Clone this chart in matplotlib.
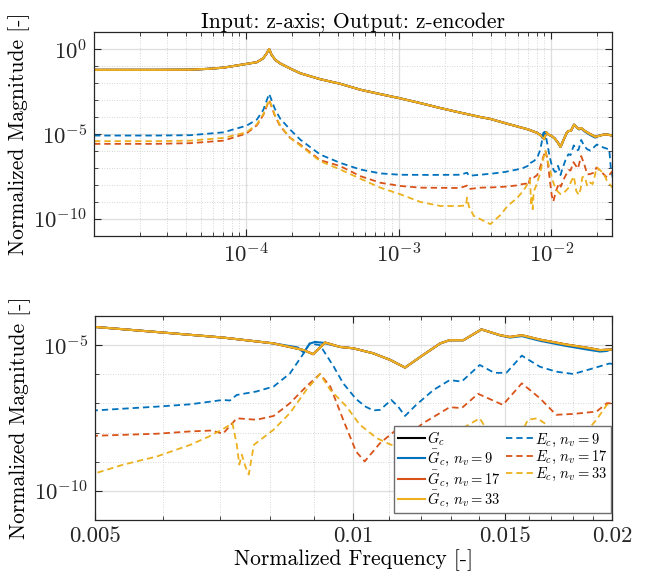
import numpy as np
import matplotlib
matplotlib.use("Agg")
import matplotlib.pyplot as plt
from matplotlib.ticker import FixedLocator, FixedFormatter, NullFormatter

plt.rcParams['font.family'] = 'serif'
plt.rcParams['font.serif'] = ['cmr10']
plt.rcParams['mathtext.fontset'] = 'cm'
plt.rcParams['axes.unicode_minus'] = False

# values, as log10(frequency) / log10(magnitude)
gc_logf = [-5.0, -4.6, -4.37, -4.25, -4.151, -4.041, -3.932, -3.89, -3.87, -3.851,
           -3.835, -3.81, -3.779, -3.713, -3.647, -3.516, -3.385, -3.253, -3.122, -3.0,
           -2.859, -2.728, -2.597, -2.466, -2.40, -2.301, -2.229, -2.152, -2.093, -2.058,
           -2.047, -2.033, -2.016, -2.000, -1.977, -1.957, -1.940, -1.919, -1.899, -1.888,
           -1.872, -1.851, -1.829, -1.818, -1.804, -1.783, -1.752, -1.728, -1.713, -1.699,
           -1.66, -1.634, -1.60]
gc_logm = [-1.23, -1.23, -1.22, -1.17, -1.10, -0.94, -0.78, -0.55, -0.30, 0.0,
           -0.35, -0.65, -0.85, -1.15, -1.43, -1.78, -2.05, -2.40, -2.66, -2.89,
           -3.19, -3.48, -3.75, -4.01, -4.12, -4.375, -4.55, -4.74, -4.94, -5.17,
           -5.31, -4.91, -5.06, -5.11, -5.28, -5.51, -5.77, -5.34, -4.94, -4.83,
           -4.83, -4.46, -4.66, -4.72, -4.66, -4.81, -4.98, -5.09, -5.17, -5.15,
           -5.05, -5.04, -5.10]

g9_logf = [-5.0, -4.6, -4.37, -4.25, -4.151, -4.041, -3.932, -3.89, -3.87, -3.851,
           -3.835, -3.81, -3.779, -3.713, -3.647, -3.516, -3.385, -3.253, -3.122, -3.0,
           -2.859, -2.728, -2.597, -2.466, -2.40, -2.301, -2.229, -2.152, -2.093, -2.065,
           -2.058, -2.051, -2.045, -2.035, -2.016, -2.000, -1.977, -1.957, -1.940, -1.919,
           -1.899, -1.888, -1.872, -1.851, -1.829, -1.818, -1.804, -1.783, -1.752, -1.728,
           -1.713, -1.705, -1.699, -1.66, -1.634, -1.60]
g9_logm = [-1.23, -1.23, -1.22, -1.17, -1.10, -0.94, -0.78, -0.55, -0.30, 0.0,
           -0.35, -0.65, -0.85, -1.15, -1.43, -1.78, -2.05, -2.40, -2.66, -2.89,
           -3.19, -3.48, -3.75, -4.01, -4.12, -4.375, -4.55, -4.74, -4.94, -5.08,
           -5.25, -4.95, -4.89, -4.92, -5.06, -5.11, -5.28, -5.51, -5.77, -5.34,
           -4.94, -4.83, -4.83, -4.46, -4.67, -4.74, -4.69, -4.85, -5.03, -5.15,
           -5.22, -5.20, -5.13, -5.05, -5.04, -5.10]

e9_logf = [-5.0, -4.6, -4.37, -4.151, -4.0, -3.932, -3.89, -3.851, -3.815, -3.779,
           -3.713, -3.647, -3.516, -3.385, -3.253, -3.122, -2.991, -2.8, -2.6, -2.553,
           -2.540, -2.466, -2.378, -2.301, -2.229, -2.190, -2.152, -2.144, -2.136, -2.113,
           -2.093, -2.074, -2.058, -2.051, -2.039, -2.023, -2.012, -1.997, -1.986, -1.977,
           -1.969, -1.956, -1.948, -1.940, -1.927, -1.907, -1.888, -1.874, -1.853, -1.836,
           -1.822, -1.804, -1.783, -1.764, -1.744, -1.725, -1.702, -1.66, -1.62, -1.61,
           -1.597]
e9_logm = [-5.10, -5.10, -5.08, -4.91, -4.52, -4.16, -3.6, -2.64, -3.5, -4.1,
           -4.75, -5.34, -6.22, -6.71, -7.10, -7.33, -7.41, -7.42, -7.41, -7.29,
           -7.47, -7.41, -7.33, -7.24, -7.11, -7.03, -6.88, -6.90, -6.71, -6.59,
           -6.42, -5.97, -5.28, -4.94, -5.0, -5.74, -6.31, -6.85, -7.11, -7.24,
           -7.22, -6.88, -7.11, -7.43, -7.05, -6.54, -6.20, -6.25, -5.68, -5.95,
           -5.95, -5.36, -5.74, -5.91, -5.99, -5.83, -5.63, -5.80, -5.92, -7.0,
           -7.6]

e17_logf = [-5.0, -4.6, -4.37, -4.151, -4.0, -3.932, -3.89, -3.851, -3.815, -3.779,
            -3.713, -3.647, -3.516, -3.385, -3.253, -3.122, -2.991, -2.859, -2.6, -2.553,
            -2.540, -2.466, -2.378, -2.301, -2.229, -2.190, -2.165, -2.152, -2.136, -2.113,
            -2.093, -2.074, -2.055, -2.039, -2.027, -2.012, -1.997, -1.987, -1.969, -1.950,
            -1.938, -1.919, -1.888, -1.874, -1.855, -1.826, -1.804, -1.783, -1.764, -1.744,
            -1.717, -1.705, -1.699, -1.634, -1.60]
e17_logm = [-5.59, -5.59, -5.55, -5.40, -4.98, -4.5, -3.9, -3.02, -3.9, -4.55,
            -5.24, -5.63, -6.55, -6.90, -7.49, -7.88, -8.07, -8.17, -8.19, -8.05,
            -8.25, -8.17, -8.15, -8.11, -8.04, -7.96, -7.93, -8.04, -7.51, -7.56,
            -7.43, -6.99, -6.42, -5.99, -6.42, -7.56, -8.65, -8.99, -8.36, -7.90,
            -8.11, -7.68, -7.13, -7.16, -6.67, -7.05, -6.31, -6.82, -7.39, -7.36,
            -7.28, -6.99, -7.0, -7.58, -7.2]

e33_logf = [-5.0, -4.6, -4.37, -4.151, -4.0, -3.932, -3.89, -3.851, -3.815, -3.779,
            -3.713, -3.647, -3.516, -3.385, -3.253, -3.122, -2.991, -2.859, -2.728, -2.60,
            -2.560, -2.553, -2.540, -2.509, -2.400, -2.33, -2.301, -2.268, -2.229, -2.190,
            -2.168, -2.152, -2.141, -2.136, -2.133, -2.130, -2.126, -2.122, -2.116, -2.093,
            -2.074, -2.055, -2.039, -2.027, -2.008, -1.993, -1.973, -1.958, -1.94, -1.92,
            -1.90, -1.888, -1.870, -1.853, -1.841, -1.837, -1.82, -1.808, -1.797, -1.786,
            -1.775, -1.764, -1.744, -1.729, -1.717, -1.705, -1.699, -1.66, -1.634, -1.60]
e33_logm = [-5.43, -5.43, -5.40, -5.24, -4.91, -4.45, -3.85, -2.99, -3.85, -4.5,
            -5.24, -5.69, -6.61, -7.10, -7.64, -8.17, -8.56, -9.01, -9.25, -9.25,
            -9.22, -8.76, -9.3, -9.83, -10.32, -9.75, -9.40, -9.10, -8.82, -8.42,
            -8.13, -7.88, -7.68, -8.4, -9.10, -8.76, -9.16, -9.44, -8.42, -7.90,
            -7.33, -6.54, -5.99, -6.54, -7.11, -7.72, -8.19, -8.4, -8.55, -8.5,
            -8.3, -8.19, -7.8, -7.51, -8.08, -8.35, -8.6, -8.25, -7.56, -7.51,
            -7.73, -8.08, -7.87, -7.96, -7.56, -7.05, -7.0, -7.3, -7.78, -8.16]

c_blue = '#0072BD'
c_red = '#D95319'
c_yellow = '#EDB120'
grid_major = '#DEDEDE'
grid_minor = '#C8C8C8'
axis_col = '#262626'


def draw_curves(ax):
    def p(lf, lm, **kw):
        return ax.plot(10 ** np.array(lf), 10 ** np.array(lm), **kw)[0]
    dash = (0, (3.5, 2.2))
    h = []
    h.append(p(gc_logf, gc_logm, color='black', lw=1.5, label=r'$G_c$'))
    h.append(p(g9_logf, g9_logm, color=c_blue, lw=1.5, label=r'$\bar{G}_c$, $n_v = 9$'))
    h.append(p(gc_logf, gc_logm, color=c_red, lw=1.5, label=r'$\bar{G}_c$, $n_v = 17$'))
    h.append(p(gc_logf, gc_logm, color=c_yellow, lw=1.5, label=r'$\bar{G}_c$, $n_v = 33$'))
    h.append(p(e9_logf, e9_logm, color=c_blue, lw=1.3, ls=dash, label=r'$E_c$, $n_v = 9$'))
    h.append(p(e17_logf, e17_logm, color=c_red, lw=1.3, ls=dash, label=r'$E_c$, $n_v = 17$'))
    h.append(p(e33_logf, e33_logm, color=c_yellow, lw=1.3, ls=dash, label=r'$E_c$, $n_v = 33$'))
    return h


def style_axes(ax):
    ax.set_axisbelow(True)
    ax.grid(True, which='major', color=grid_major, lw=0.9, ls='-')
    ax.grid(True, which='minor', color=grid_minor, lw=0.6, ls=(0, (1, 2)))
    ax.tick_params(which='both', direction='in', top=True, right=True, colors=axis_col,
                   labelsize=16.5, pad=5)
    ax.tick_params(which='major', length=5, width=0.8)
    ax.tick_params(which='minor', length=3, width=0.6)
    for s in ax.spines.values():
        s.set_color(axis_col)
        s.set_linewidth(0.9)


fig = plt.figure(figsize=(6.55, 5.81), dpi=100)

# top: full range
ax1 = fig.add_axes([94 / 655, 1 - 235.7 / 581, 518 / 655, 203.7 / 581])
draw_curves(ax1)
ax1.set_xscale('log')
ax1.set_yscale('log')
ax1.set_xlim(1e-5, 0.025)
ax1.set_ylim(1e-11, 1e1)
ax1.xaxis.set_major_locator(FixedLocator([1e-4, 1e-3, 1e-2]))
ax1.xaxis.set_major_formatter(FixedFormatter([r'$10^{-4}$', r'$10^{-3}$', r'$10^{-2}$']))
ax1.xaxis.set_minor_locator(FixedLocator([m * 10.0 ** d for d in range(-5, -1) for m in range(2, 10)]))
ax1.xaxis.set_minor_formatter(NullFormatter())
ax1.yaxis.set_major_locator(FixedLocator([1e-10, 1e-5, 1e0]))
ax1.yaxis.set_major_formatter(FixedFormatter([r'$10^{-10}$', r'$10^{-5}$', r'$10^{0}$']))
ax1.yaxis.set_minor_locator(FixedLocator([10.0 ** d for d in range(-11, 2) if d not in (-10, -5, 0)]))
ax1.yaxis.set_minor_formatter(NullFormatter())
style_axes(ax1)
ax1.set_title('Input: z-axis; Output: z-encoder', fontsize=15.5, pad=3)
ax1.set_ylabel('Normalized Magnitude [-]', fontsize=15.5, labelpad=2)

# bottom: zoom on 0.005 - 0.02
ax2 = fig.add_axes([95 / 655, 1 - 520 / 581, 517 / 655, 204 / 581])
handles = draw_curves(ax2)
ax2.set_xscale('log')
ax2.set_yscale('log')
ax2.set_xlim(0.005, 0.02)
ax2.set_ylim(1e-11, 1e-4)
ax2.xaxis.set_major_locator(FixedLocator([0.005, 0.01, 0.015, 0.02]))
ax2.xaxis.set_major_formatter(FixedFormatter(['0.005', '0.01', '0.015', '0.02']))
ax2.xaxis.set_minor_locator(FixedLocator([k / 1000 for k in range(6, 20) if k not in (10, 15)]))
ax2.xaxis.set_minor_formatter(NullFormatter())
ax2.yaxis.set_major_locator(FixedLocator([1e-10, 1e-5]))
ax2.yaxis.set_major_formatter(FixedFormatter([r'$10^{-10}$', r'$10^{-5}$']))
ax2.yaxis.set_minor_locator(FixedLocator([10.0 ** d for d in range(-11, -3) if d not in (-10, -5)]))
ax2.yaxis.set_minor_formatter(NullFormatter())
style_axes(ax2)
ax2.set_ylabel('Normalized Magnitude [-]', fontsize=15.5, labelpad=2)
ax2.set_xlabel('Normalized Frequency [-]', fontsize=15.5, labelpad=2)

leg = ax2.legend(handles=handles, ncol=2, loc='lower right', bbox_to_anchor=(0.998, 0.035),
                 fontsize=10.5, frameon=True, fancybox=False, framealpha=1, edgecolor='#6E6E6E',
                 handlelength=1.9, handletextpad=0.1, columnspacing=0.35, labelspacing=0.0,
                 borderpad=0.25, borderaxespad=0.0)
leg.get_frame().set_linewidth(1.0)

fig.savefig('out.png', dpi=100)
